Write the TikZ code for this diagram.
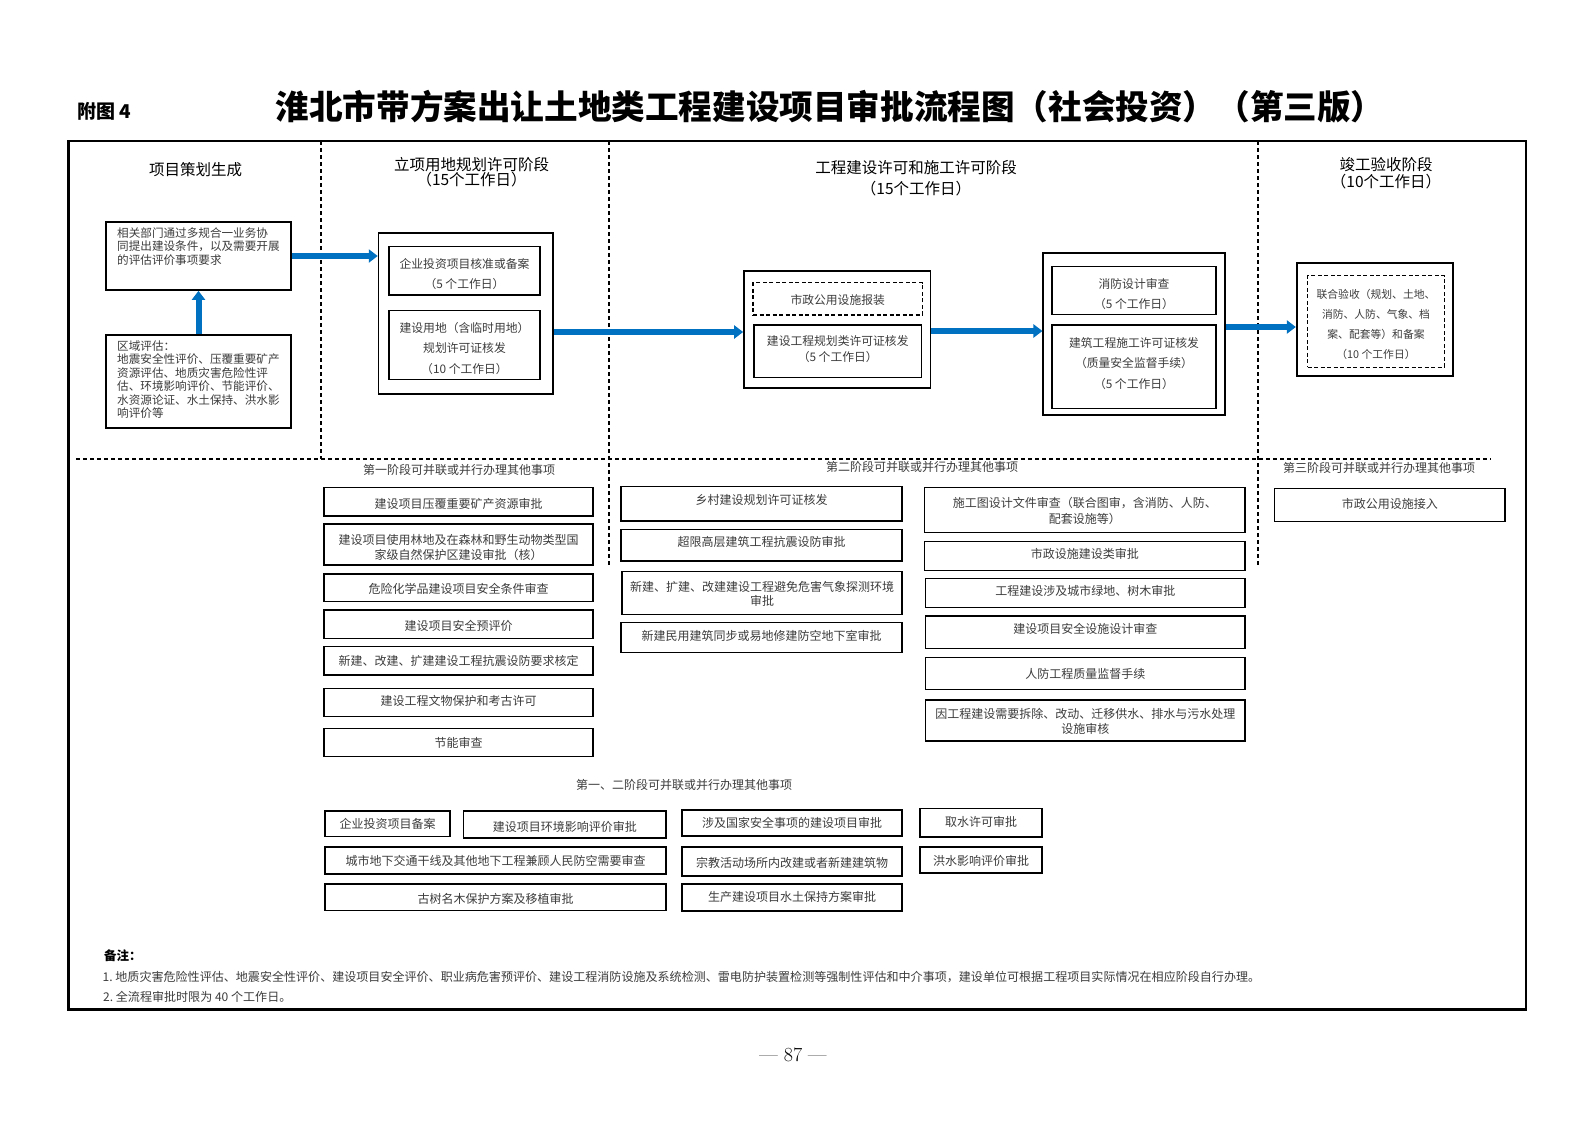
\documentclass[tikz,border=0pt]{standalone}
\usepackage{fontspec}
\newfontfamily\cjk{Noto Sans CJK SC}
\usetikzlibrary{arrows.meta,fit}
\definecolor{arrowblue}{RGB}{0,112,192}
\definecolor{txtgray}{RGB}{60,60,60}
\newcommand\myfs[2]{\fontsize{#1}{#2}\selectfont}
\tikzset{
  frm/.style={draw, line width=2.4pt},
  bx/.style={draw, line width=1.5pt, inner sep=0pt},
  outerbx/.style={draw, line width=1.7pt, inner sep=0pt},
  dbx/.style={bx, dash pattern=on 4pt off 2.5pt},
  boxtext/.style={inner sep=0pt, align=center, text=txtgray, font=\cjk\myfs{12}{15}},
  stagetext/.style={boxtext, font=\cjk\myfs{11.8}{20.5}},
  hdr/.style={font=\cjk\myfs{15.5}{14}, align=center, inner sep=0pt},
  sechead/.style={font=\cjk\myfs{12}{14}, text=txtgray, inner sep=0pt},
  sepline/.style={dash pattern=on 4pt off 3pt, line width=1.3pt},
  flow/.style={draw=arrowblue, line width=6pt, -{Triangle[length=9pt,width=13pt]}},
  freetxt/.style={inner sep=0pt, anchor=north west, align=left, text=txtgray},
  notes/.style={inner sep=0pt, anchor=west, text=txtgray, font=\cjk\myfs{12.05}{14}}
}
% #1 box style, #2 name, #3 corner, #4 corner, #5 text style, #6 text
\newcommand\boxtxt[6]{%
  \node[#1, fit={(#3) (#4)}] (#2) {};
  \node[#5] (#2t) at (#2.center) {#6};}
\begin{document}
\begin{tikzpicture}[x=1pt,y=-1pt]
\useasboundingbox (0,0) rectangle (1587,1122);
\fill[white] (0,0) rectangle (1587,1122);

% title
\node[font=\cjk\bfseries\myfs{19}{20}, anchor=west, inner sep=0pt] (fig) at (77,111) {附图 4};
\node[font=\cjk\bfseries\myfs{33.6}{36}, inner sep=0pt] (title) at (830,107) {淮北市带方案出让土地类工程建设项目审批流程图（社会投资）（第三版）};

% frame
\draw[frm] (68.5,141) rectangle (1526,1009.5);

% separators
\draw[sepline] (321,141) -- (321,459);
\draw[sepline] (609,141) -- (609,567);
\draw[sepline] (1258,141) -- (1258,565);
\draw[sepline] (76,459) -- (1491,459);

% headers
\node[hdr] (h0) at (195.7,170) {项目策划生成};
\node[hdr] (h1) at (471.6,172) {立项用地规划许可阶段\\（15个工作日）};
\node[hdr, font=\cjk\myfs{15.5}{21}] (h2) at (916,178.5) {工程建设许可和施工许可阶段\\（15个工作日）};
\node[hdr, font=\cjk\myfs{15.5}{17}] (h3) at (1386,173.5) {竣工验收阶段\\（10个工作日）};

% stage 0
\node[outerbx, fit={(106,222) (291,290)}] (A) {};
\node[freetxt, font=\cjk\myfs{11.6}{13.4}] (Atext) at (117,227.5) {相关部门通过多规合一业务协\\同提出建设条件，以及需要开展\\的评估评价事项要求};
\node[outerbx, fit={(106,335) (291,428)}] (B) {};
\node[freetxt, font=\cjk\myfs{11.6}{13.4}] (Btext) at (117,340.5) {区域评估：\\地震安全性评价、压覆重要矿产\\资源评估、地质灾害危险性评\\估、环境影响评价、节能评价、\\水资源论证、水土保持、洪水影\\响评价等};

% stage 1
\node[outerbx, fit={(378.6,232.7) (553,394)}] (S1) {};
\boxtxt{bx}{S1a}{389,246.7}{540,295}{stagetext, yshift=-3pt}{企业投资项目核准或备案\\（5 个工作日）}
\boxtxt{bx}{S1b}{389,310.7}{540,379.3}{stagetext, yshift=-3.5pt}{建设用地（含临时用地）\\规划许可证核发\\（10 个工作日）}

% stage 2
\node[outerbx, fit={(744,270.7) (930.6,387.7)}] (S2) {};
\boxtxt{dbx}{S2a}{753,282.7}{922.4,315}{stagetext, yshift=-1pt}{市政公用设施报装}
\boxtxt{bx}{S2b}{753.9,325}{921.6,377.3}{stagetext, font=\cjk\myfs{11.8}{15.7}, yshift=2pt}{建设工程规划类许可证核发\\（5 个工作日）}

% stage 3
\node[outerbx, fit={(1043.3,252.7) (1225.3,415)}] (S3) {};
\boxtxt{bx}{S3a}{1052,266.7}{1216,314.3}{stagetext, font=\cjk\myfs{11.8}{20}, yshift=-3.5pt}{消防设计审查\\（5 个工作日）}
\boxtxt{bx}{S3b}{1052,325}{1216,408.3}{stagetext, yshift=3.5pt}{建筑工程施工许可证核发\\（质量安全监督手续）\\（5 个工作日）}

% stage 4
\node[outerbx, fit={(1296.7,263.3) (1453.3,376)}] (S4) {};
\boxtxt{dbx}{S4a}{1307.7,275.7}{1444.3,367.3}{stagetext, font=\cjk\myfs{10.8}{20.2}, yshift=-3pt}{联合验收（规划、土地、\\消防、人防、气象、档\\案、配套等）和备案\\（10 个工作日）}

% flow arrows
\draw[flow] (B.north) -- (A.south);
\draw[flow] (A.east) -- (A.east -| S1.west);
\draw[flow] (S1.east |- 0,332) -- (S2.west |- 0,332);
\draw[flow] (S2.east |- 0,331) -- (S3.west |- 0,331);
\draw[flow] (S3.east |- 0,327) -- (S4.west |- 0,327);

% section headings
\node[sechead] (sh1) at (459,470) {第一阶段可并联或并行办理其他事项};
\node[sechead] (sh2) at (922,467) {第二阶段可并联或并行办理其他事项};
\node[sechead] (sh3) at (1379,467.5) {第三阶段可并联或并行办理其他事项};
\node[sechead] (sh12) at (684,785) {第一、二阶段可并联或并行办理其他事项};

% section 1
\boxtxt{bx}{p1}{324,487.3}{593,516}{boxtext, yshift=-2.5pt}{建设项目压覆重要矿产资源审批}
\boxtxt{bx}{p2}{324,524}{593,565}{boxtext, font=\cjk\myfs{12}{15.7}, yshift=-3pt}{建设项目使用林地及在森林和野生动物类型国\\家级自然保护区建设审批（核）}
\boxtxt{bx}{p3}{324,574}{593,601.7}{boxtext, yshift=-1pt}{危险化学品建设项目安全条件审查}
\boxtxt{bx}{p4}{324,610}{593,638.3}{boxtext, yshift=-1.5pt}{建设项目安全预评价}
\boxtxt{bx}{p5}{324,646.7}{593,675}{boxtext}{新建、改建、扩建建设工程抗震设防要求核定}
\boxtxt{bx}{p6}{324,688.3}{593,716.7}{boxtext, yshift=1.5pt}{建设工程文物保护和考古许可}
\boxtxt{bx}{p7}{324,728.3}{593,756.7}{boxtext}{节能审查}

% section 2 left
\boxtxt{bx}{q1}{621,486.7}{902,521}{boxtext, yshift=3.5pt}{乡村建设规划许可证核发}
\boxtxt{bx}{q2}{621,529.3}{902,561}{boxtext, yshift=3.5pt}{超限高层建筑工程抗震设防审批}
\boxtxt{bx}{q3}{622,571.7}{902,614.3}{boxtext, font=\cjk\myfs{12}{14}, yshift=-1pt}{新建、扩建、改建建设工程避免危害气象探测环境\\审批}
\boxtxt{bx}{q4}{621,622.7}{902,652.7}{boxtext, yshift=2pt}{新建民用建筑同步或易地修建防空地下室审批}

% section 2 right
\boxtxt{bx}{r1}{924.5,487.3}{1245,532.7}{boxtext, font=\cjk\myfs{12}{16}, yshift=-1pt}{施工图设计文件审查（联合图审，含消防、人防、\\配套设施等）}
\boxtxt{bx}{r2}{924.5,541.7}{1245,570.7}{boxtext, yshift=2pt}{市政设施建设类审批}
\boxtxt{bx}{r3}{925.5,578.3}{1245,607.7}{boxtext, yshift=2pt}{工程建设涉及城市绿地、树木审批}
\boxtxt{bx}{r4}{925.5,616}{1245,648.3}{boxtext, yshift=3pt}{建设项目安全设施设计审查}
\boxtxt{bx}{r5}{925.5,657.3}{1245,689.3}{boxtext, yshift=-0.5pt}{人防工程质量监督手续}
\boxtxt{bx}{r6}{925.5,700}{1245,741}{boxtext, font=\cjk\myfs{12}{14.3}, yshift=-1pt}{因工程建设需要拆除、改动、迁移供水、排水与污水处理\\设施审核}

% section 3
\boxtxt{bx}{t1}{1274.5,488.3}{1505,521.7}{boxtext, yshift=1.5pt}{市政公用设施接入}

% section 1 and 2
\boxtxt{bx}{ba}{325,811}{450,836.5}{boxtext, yshift=-0.5pt}{企业投资项目备案}
\boxtxt{bx}{bb}{463.5,811}{666,838}{boxtext, yshift=-2.5pt}{建设项目环境影响评价审批}
\boxtxt{bx}{bc}{682,810}{902,836}{boxtext, yshift=0.5pt}{涉及国家安全事项的建设项目审批}
\boxtxt{bx}{bd}{920,808.5}{1042,837}{boxtext, yshift=0.5pt}{取水许可审批}
\boxtxt{bx}{be}{325,847}{666,874}{boxtext}{城市地下交通干线及其他地下工程兼顾人民防空需要审查}
\boxtxt{bx}{bf}{682,847}{902,876}{boxtext, yshift=-1pt}{宗教活动场所内改建或者新建建筑物}
\boxtxt{bx}{bg}{920,847}{1042,873}{boxtext, yshift=-1pt}{洪水影响评价审批}
\boxtxt{bx}{bh}{325,884}{666,910.5}{boxtext, yshift=-1.5pt}{古树名木保护方案及移植审批}
\boxtxt{bx}{bi}{682,884}{902,911}{boxtext, yshift=0.5pt}{生产建设项目水土保持方案审批}

% notes
\node[inner sep=0pt, anchor=west, font=\cjk\bfseries\myfs{12.5}{14}] (n0) at (104,956) {备注：};
\node[notes] (n1) at (102.5,976.7) {1.~地质灾害危险性评估、地震安全性评价、建设项目安全评价、职业病危害预评价、建设工程消防设施及系统检测、雷电防护装置检测等强制性评估和中介事项，建设单位可根据工程项目实际情况在相应阶段自行办理。};
\node[notes] (n2) at (103,996.7) {2.~全流程审批时限为 40 个工作日。};

% page number
\node[font=\myfs{20}{21}, inner sep=0pt] (pg) at (793,1055) {\textemdash{} 87 \textemdash};
\end{tikzpicture}
\end{document}
